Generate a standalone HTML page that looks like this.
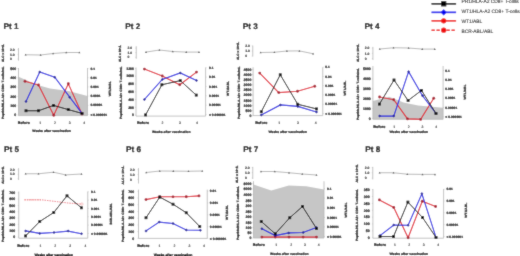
<!DOCTYPE html>
<html><head><meta charset="utf-8"><title>Figure</title>
<style>
html,body{margin:0;padding:0;background:#fff;}
body{width:520px;height:256px;overflow:hidden;font-family:"Liberation Sans", sans-serif;}
svg{display:block;}
#wrap{width:520px;height:256px;}
text{filter:grayscale(1);text-rendering:geometricPrecision;stroke:#000;stroke-width:0.2px;}
text.lg{stroke:#222;stroke-width:0.08px;}
text.nm{stroke-width:0.1px;}
</style></head><body>
<div id="wrap">
<svg width="520" height="256" viewBox="0 0 520 256" font-family='"Liberation Sans", sans-serif'>
<defs><filter id="bl" x="0" y="0" width="520" height="256" filterUnits="userSpaceOnUse"><feConvolveMatrix order="3" kernelMatrix="0.02 0.08 0.02 0.08 0.6 0.08 0.02 0.08 0.02" divisor="1" edgeMode="duplicate" preserveAlpha="false"/></filter></defs>
<rect width="520" height="256" fill="#fff"/>
<g filter="url(#bl)">
<rect width="520" height="256" fill="#fff"/>
<text x="3.45" y="28.9" font-size="8.2" font-weight="bold" text-anchor="start" fill="#000">Pt 1</text>
<line x1="18.5" y1="48" x2="18.5" y2="60.6" stroke="#b4b4b4" stroke-width="0.8"/>
<text x="10" y="50.82" font-size="3.4" font-weight="bold" text-anchor="start" fill="#000000" class="nm">2.0</text>
<line x1="17.5" y1="49.6" x2="18.5" y2="49.6" stroke="#b4b4b4" stroke-width="0.5"/>
<text x="10" y="55.52" font-size="3.4" font-weight="bold" text-anchor="start" fill="#000000" class="nm">1.0</text>
<line x1="17.5" y1="54.3" x2="18.5" y2="54.3" stroke="#b4b4b4" stroke-width="0.5"/>
<text x="10" y="60.22" font-size="3.4" font-weight="bold" text-anchor="start" fill="#000000" class="nm">0</text>
<line x1="17.5" y1="59" x2="18.5" y2="59" stroke="#b4b4b4" stroke-width="0.5"/>
<polyline points="25.6,54.75 40.6,55 53.1,53.5 66.25,52.5 79.4,52.5" fill="none" stroke="#8a8a8a" stroke-width="0.6"/>
<polygon points="25.6,53.75 26.6,55.55 24.6,55.55" fill="#4a4a4a"/>
<polygon points="40.6,54 41.6,55.8 39.6,55.8" fill="#4a4a4a"/>
<polygon points="53.1,52.5 54.1,54.3 52.1,54.3" fill="#4a4a4a"/>
<polygon points="66.25,51.5 67.25,53.3 65.25,53.3" fill="#4a4a4a"/>
<polygon points="79.4,51.5 80.4,53.3 78.4,53.3" fill="#4a4a4a"/>
<text transform="translate(3.62 53) rotate(-90)" x="0" y="0" font-size="3.2" font-weight="bold" text-anchor="middle" fill="#000000" textLength="18" lengthAdjust="spacingAndGlyphs">ALC x 10⁹/L</text>
<polygon points="18.5,76.7 37.6,85.1 50,88.4 68.5,91 87.5,96 87.5,115.6 18.5,115.6" fill="#c6c6c6"/>
<polyline points="18.5,68 18.5,115.6 87.5,115.6 87.5,68" fill="none" stroke="#b4b4b4" stroke-width="0.8"/>
<text x="16.2" y="69.76" font-size="3.5" font-weight="bold" text-anchor="end" fill="#000000">500</text>
<line x1="17.5" y1="68.5" x2="18.5" y2="68.5" stroke="#b4b4b4" stroke-width="0.5"/>
<text x="16.2" y="79.06" font-size="3.5" font-weight="bold" text-anchor="end" fill="#000000">400</text>
<line x1="17.5" y1="77.8" x2="18.5" y2="77.8" stroke="#b4b4b4" stroke-width="0.5"/>
<text x="16.2" y="88.36" font-size="3.5" font-weight="bold" text-anchor="end" fill="#000000">300</text>
<line x1="17.5" y1="87.1" x2="18.5" y2="87.1" stroke="#b4b4b4" stroke-width="0.5"/>
<text x="16.2" y="97.66" font-size="3.5" font-weight="bold" text-anchor="end" fill="#000000">200</text>
<line x1="17.5" y1="96.4" x2="18.5" y2="96.4" stroke="#b4b4b4" stroke-width="0.5"/>
<text x="16.2" y="106.96" font-size="3.5" font-weight="bold" text-anchor="end" fill="#000000">100</text>
<line x1="17.5" y1="105.7" x2="18.5" y2="105.7" stroke="#b4b4b4" stroke-width="0.5"/>
<text x="16.2" y="116.26" font-size="3.5" font-weight="bold" text-anchor="end" fill="#000000">0</text>
<line x1="17.5" y1="115" x2="18.5" y2="115" stroke="#b4b4b4" stroke-width="0.5"/>
<text x="90.5" y="69.69" font-size="3.3" font-weight="bold" text-anchor="start" fill="#000000">0.1</text>
<line x1="87.5" y1="68.5" x2="88.5" y2="68.5" stroke="#b4b4b4" stroke-width="0.5"/>
<text x="90.5" y="78.89" font-size="3.3" font-weight="bold" text-anchor="start" fill="#000000">0.01</text>
<line x1="87.5" y1="77.7" x2="88.5" y2="77.7" stroke="#b4b4b4" stroke-width="0.5"/>
<text x="90.5" y="88.09" font-size="3.3" font-weight="bold" text-anchor="start" fill="#000000">0.001</text>
<line x1="87.5" y1="86.9" x2="88.5" y2="86.9" stroke="#b4b4b4" stroke-width="0.5"/>
<text x="90.5" y="97.29" font-size="3.3" font-weight="bold" text-anchor="start" fill="#000000">0.0001</text>
<line x1="87.5" y1="96.1" x2="88.5" y2="96.1" stroke="#b4b4b4" stroke-width="0.5"/>
<text x="90.5" y="106.49" font-size="3.3" font-weight="bold" text-anchor="start" fill="#000000">0.00001</text>
<line x1="87.5" y1="105.3" x2="88.5" y2="105.3" stroke="#b4b4b4" stroke-width="0.5"/>
<text x="90.5" y="115.69" font-size="3.3" font-weight="bold" text-anchor="start" fill="#000000">&lt; 0.000001</text>
<line x1="87.5" y1="114.5" x2="88.5" y2="114.5" stroke="#b4b4b4" stroke-width="0.5"/>
<polyline points="25,81.25 38.5,85 53.75,115.25 68.3,83.75 82,114" fill="none" stroke="#e01c2c" stroke-width="1.1"/>
<circle cx="25" cy="81.25" r="1.4" fill="#a8162a"/>
<circle cx="38.5" cy="85" r="1.4" fill="#a8162a"/>
<circle cx="53.75" cy="115.25" r="1.4" fill="#a8162a"/>
<circle cx="68.3" cy="83.75" r="1.4" fill="#a8162a"/>
<circle cx="82" cy="114" r="1.4" fill="#a8162a"/>
<polyline points="26,101.4 39.75,71.9 54.75,77.25 69.7,97.15 82,113.3" fill="none" stroke="#1c1ce0" stroke-width="1.1"/>
<polygon points="26,99.9 27.5,101.4 26,102.9 24.5,101.4" fill="#14149c"/>
<polygon points="39.75,70.4 41.25,71.9 39.75,73.4 38.25,71.9" fill="#14149c"/>
<polygon points="54.75,75.75 56.25,77.25 54.75,78.75 53.25,77.25" fill="#14149c"/>
<polygon points="69.7,95.65 71.2,97.15 69.7,98.65 68.2,97.15" fill="#14149c"/>
<polygon points="82,111.8 83.5,113.3 82,114.8 80.5,113.3" fill="#14149c"/>
<polyline points="26,110.75 38.5,110.75 53.5,105.4 68.3,109.6 82,113.4" fill="none" stroke="#000000" stroke-width="0.95"/>
<rect x="24.6" y="109.35" width="2.8" height="2.8" fill="#000000"/>
<rect x="37.1" y="109.35" width="2.8" height="2.8" fill="#000000"/>
<rect x="52.1" y="104" width="2.8" height="2.8" fill="#000000"/>
<rect x="66.9" y="108.2" width="2.8" height="2.8" fill="#000000"/>
<rect x="80.6" y="112" width="2.8" height="2.8" fill="#000000"/>
<text x="23.75" y="124.09" font-size="3.85" font-weight="bold" text-anchor="middle" fill="#000000">Before</text>
<text x="40.3" y="123.92" font-size="3.4" font-weight="normal" text-anchor="middle" fill="#000000" class="nm">1</text>
<text x="55" y="123.92" font-size="3.4" font-weight="normal" text-anchor="middle" fill="#000000" class="nm">2</text>
<text x="69.6" y="123.92" font-size="3.4" font-weight="normal" text-anchor="middle" fill="#000000" class="nm">3</text>
<text x="84.1" y="123.92" font-size="3.4" font-weight="normal" text-anchor="middle" fill="#000000" class="nm">4</text>
<text x="51.6" y="132.12" font-size="3.4" font-weight="bold" text-anchor="middle" fill="#000000">Weeks after vaccination</text>
<text transform="translate(3.82 92.75) rotate(-90)" x="0" y="0" font-size="3.2" font-weight="bold" text-anchor="middle" fill="#000000" textLength="52.5" lengthAdjust="spacingAndGlyphs">Peptide/HLA-A2+ CD8+ T-cells/mL</text>
<text transform="translate(110.72 88.75) rotate(-90)" x="0" y="0" font-size="3.2" font-weight="bold" text-anchor="middle" fill="#000000" textLength="15" lengthAdjust="spacingAndGlyphs">WT1/ABL</text>
<text x="125.2" y="28.9" font-size="8.2" font-weight="bold" text-anchor="start" fill="#000">Pt 2</text>
<line x1="136.25" y1="46.25" x2="136.25" y2="58.75" stroke="#b4b4b4" stroke-width="0.8"/>
<text x="127.5" y="49.32" font-size="3.4" font-weight="bold" text-anchor="start" fill="#000000" class="nm">2.0</text>
<line x1="135.25" y1="48.1" x2="136.25" y2="48.1" stroke="#b4b4b4" stroke-width="0.5"/>
<text x="127.5" y="53.92" font-size="3.4" font-weight="bold" text-anchor="start" fill="#000000" class="nm">1.0</text>
<line x1="135.25" y1="52.7" x2="136.25" y2="52.7" stroke="#b4b4b4" stroke-width="0.5"/>
<text x="127.5" y="58.47" font-size="3.4" font-weight="bold" text-anchor="start" fill="#000000" class="nm">0</text>
<line x1="135.25" y1="57.25" x2="136.25" y2="57.25" stroke="#b4b4b4" stroke-width="0.5"/>
<polyline points="146,52.1 159.4,50 172.75,51.5 186.25,52.1 199,52.1" fill="none" stroke="#8a8a8a" stroke-width="0.6"/>
<polygon points="146,51.1 147,52.9 145,52.9" fill="#4a4a4a"/>
<polygon points="159.4,49 160.4,50.8 158.4,50.8" fill="#4a4a4a"/>
<polygon points="172.75,50.5 173.75,52.3 171.75,52.3" fill="#4a4a4a"/>
<polygon points="186.25,51.1 187.25,52.9 185.25,52.9" fill="#4a4a4a"/>
<polygon points="199,51.1 200,52.9 198,52.9" fill="#4a4a4a"/>
<text transform="translate(121.02 53.38) rotate(-90)" x="0" y="0" font-size="3.2" font-weight="bold" text-anchor="middle" fill="#000000" textLength="17.25" lengthAdjust="spacingAndGlyphs">ALC x 10⁹/L</text>
<polyline points="136,67.5 136,116.1 205.6,116.1 205.6,67.5" fill="none" stroke="#b4b4b4" stroke-width="0.8"/>
<text x="134" y="69.66" font-size="3.5" font-weight="bold" text-anchor="end" fill="#000000">1200</text>
<line x1="135" y1="68.4" x2="136" y2="68.4" stroke="#b4b4b4" stroke-width="0.5"/>
<text x="134" y="77.44" font-size="3.5" font-weight="bold" text-anchor="end" fill="#000000">1000</text>
<line x1="135" y1="76.18" x2="136" y2="76.18" stroke="#b4b4b4" stroke-width="0.5"/>
<text x="134" y="85.23" font-size="3.5" font-weight="bold" text-anchor="end" fill="#000000">800</text>
<line x1="135" y1="83.97" x2="136" y2="83.97" stroke="#b4b4b4" stroke-width="0.5"/>
<text x="134" y="93.01" font-size="3.5" font-weight="bold" text-anchor="end" fill="#000000">600</text>
<line x1="135" y1="91.75" x2="136" y2="91.75" stroke="#b4b4b4" stroke-width="0.5"/>
<text x="134" y="100.79" font-size="3.5" font-weight="bold" text-anchor="end" fill="#000000">400</text>
<line x1="135" y1="99.53" x2="136" y2="99.53" stroke="#b4b4b4" stroke-width="0.5"/>
<text x="134" y="108.58" font-size="3.5" font-weight="bold" text-anchor="end" fill="#000000">200</text>
<line x1="135" y1="107.32" x2="136" y2="107.32" stroke="#b4b4b4" stroke-width="0.5"/>
<text x="134" y="116.36" font-size="3.5" font-weight="bold" text-anchor="end" fill="#000000">0</text>
<line x1="135" y1="115.1" x2="136" y2="115.1" stroke="#b4b4b4" stroke-width="0.5"/>
<text x="209" y="68.94" font-size="3.3" font-weight="bold" text-anchor="start" fill="#000000">0.1</text>
<line x1="205.6" y1="67.75" x2="206.6" y2="67.75" stroke="#b4b4b4" stroke-width="0.5"/>
<text x="209" y="78.29" font-size="3.3" font-weight="bold" text-anchor="start" fill="#000000">0.01</text>
<line x1="205.6" y1="77.1" x2="206.6" y2="77.1" stroke="#b4b4b4" stroke-width="0.5"/>
<text x="209" y="87.64" font-size="3.3" font-weight="bold" text-anchor="start" fill="#000000">0.001</text>
<line x1="205.6" y1="86.45" x2="206.6" y2="86.45" stroke="#b4b4b4" stroke-width="0.5"/>
<text x="209" y="96.99" font-size="3.3" font-weight="bold" text-anchor="start" fill="#000000">0.0001</text>
<line x1="205.6" y1="95.8" x2="206.6" y2="95.8" stroke="#b4b4b4" stroke-width="0.5"/>
<text x="209" y="106.34" font-size="3.3" font-weight="bold" text-anchor="start" fill="#000000">0.00001</text>
<line x1="205.6" y1="105.15" x2="206.6" y2="105.15" stroke="#b4b4b4" stroke-width="0.5"/>
<text x="209" y="115.69" font-size="3.3" font-weight="bold" text-anchor="start" fill="#000000">&lt; 0.000001</text>
<line x1="205.6" y1="114.5" x2="206.6" y2="114.5" stroke="#b4b4b4" stroke-width="0.5"/>
<polyline points="144.4,69.1 162.25,76 179.75,84.75 196.5,72.1" fill="none" stroke="#e01c2c" stroke-width="1.1"/>
<circle cx="144.4" cy="69.1" r="1.4" fill="#a8162a"/>
<circle cx="162.25" cy="76" r="1.4" fill="#a8162a"/>
<circle cx="179.75" cy="84.75" r="1.4" fill="#a8162a"/>
<circle cx="196.5" cy="72.1" r="1.4" fill="#a8162a"/>
<polyline points="144.4,99.5 162.25,79.4 180.25,72.9 196.5,80.6" fill="none" stroke="#1c1ce0" stroke-width="1.1"/>
<polygon points="144.4,98 145.9,99.5 144.4,101 142.9,99.5" fill="#14149c"/>
<polygon points="162.25,77.9 163.75,79.4 162.25,80.9 160.75,79.4" fill="#14149c"/>
<polygon points="180.25,71.4 181.75,72.9 180.25,74.4 178.75,72.9" fill="#14149c"/>
<polygon points="196.5,79.1 198,80.6 196.5,82.1 195,80.6" fill="#14149c"/>
<polyline points="145.6,114.9 161.9,84.75 180.25,80.6 196.25,95.1" fill="none" stroke="#000000" stroke-width="0.95"/>
<rect x="144.2" y="113.5" width="2.8" height="2.8" fill="#000000"/>
<rect x="160.5" y="83.35" width="2.8" height="2.8" fill="#000000"/>
<rect x="178.85" y="79.2" width="2.8" height="2.8" fill="#000000"/>
<rect x="194.85" y="93.7" width="2.8" height="2.8" fill="#000000"/>
<text x="143" y="123.99" font-size="3.85" font-weight="bold" text-anchor="middle" fill="#000000">Before</text>
<text x="162.5" y="123.82" font-size="3.4" font-weight="normal" text-anchor="middle" fill="#000000" class="nm">2</text>
<text x="180" y="123.82" font-size="3.4" font-weight="normal" text-anchor="middle" fill="#000000" class="nm">3</text>
<text x="196.9" y="123.82" font-size="3.4" font-weight="normal" text-anchor="middle" fill="#000000" class="nm">4</text>
<text x="171.2" y="132.72" font-size="3.4" font-weight="bold" text-anchor="middle" fill="#000000">Weeks after vaccination</text>
<text transform="translate(121.62 92.75) rotate(-90)" x="0" y="0" font-size="3.2" font-weight="bold" text-anchor="middle" fill="#000000" textLength="52.5" lengthAdjust="spacingAndGlyphs">Peptide/HLA-A2+ CD8+ T-cells/mL</text>
<text transform="translate(229.12 88.5) rotate(-90)" x="0" y="0" font-size="3.2" font-weight="bold" text-anchor="middle" fill="#000000" textLength="15" lengthAdjust="spacingAndGlyphs">WT1/ABL</text>
<text x="242.7" y="28.9" font-size="8.2" font-weight="bold" text-anchor="start" fill="#000">Pt 3</text>
<line x1="252.75" y1="45.6" x2="252.75" y2="56.5" stroke="#b4b4b4" stroke-width="0.8"/>
<text x="245.25" y="47.12" font-size="3.4" font-weight="bold" text-anchor="start" fill="#000000" class="nm">2.0</text>
<line x1="251.75" y1="45.9" x2="252.75" y2="45.9" stroke="#b4b4b4" stroke-width="0.5"/>
<text x="245.25" y="52.22" font-size="3.4" font-weight="bold" text-anchor="start" fill="#000000" class="nm">1.0</text>
<line x1="251.75" y1="51" x2="252.75" y2="51" stroke="#b4b4b4" stroke-width="0.5"/>
<text x="245.25" y="57.22" font-size="3.4" font-weight="bold" text-anchor="start" fill="#000000" class="nm">0</text>
<line x1="251.75" y1="56" x2="252.75" y2="56" stroke="#b4b4b4" stroke-width="0.5"/>
<polyline points="260.6,52.5 274.4,52.25 286.9,51 299.4,50.9 313.1,53.75" fill="none" stroke="#8a8a8a" stroke-width="0.6"/>
<polygon points="260.6,51.5 261.6,53.3 259.6,53.3" fill="#4a4a4a"/>
<polygon points="274.4,51.25 275.4,53.05 273.4,53.05" fill="#4a4a4a"/>
<polygon points="286.9,50 287.9,51.8 285.9,51.8" fill="#4a4a4a"/>
<polygon points="299.4,49.9 300.4,51.7 298.4,51.7" fill="#4a4a4a"/>
<polygon points="313.1,52.75 314.1,54.55 312.1,54.55" fill="#4a4a4a"/>
<text transform="translate(238.52 50.95) rotate(-90)" x="0" y="0" font-size="3.2" font-weight="bold" text-anchor="middle" fill="#000000" textLength="18.1" lengthAdjust="spacingAndGlyphs">ALC x 10⁹/L</text>
<polyline points="253.1,67.25 253.1,115.6 322.75,115.6 322.75,67.25" fill="none" stroke="#b4b4b4" stroke-width="0.8"/>
<text x="251.4" y="70.66" font-size="3.5" font-weight="bold" text-anchor="end" fill="#000000">4500</text>
<line x1="252.1" y1="69.4" x2="253.1" y2="69.4" stroke="#b4b4b4" stroke-width="0.5"/>
<text x="251.4" y="75.81" font-size="3.5" font-weight="bold" text-anchor="end" fill="#000000">4000</text>
<line x1="252.1" y1="74.55" x2="253.1" y2="74.55" stroke="#b4b4b4" stroke-width="0.5"/>
<text x="251.4" y="80.96" font-size="3.5" font-weight="bold" text-anchor="end" fill="#000000">3500</text>
<line x1="252.1" y1="79.7" x2="253.1" y2="79.7" stroke="#b4b4b4" stroke-width="0.5"/>
<text x="251.4" y="86.11" font-size="3.5" font-weight="bold" text-anchor="end" fill="#000000">3000</text>
<line x1="252.1" y1="84.85" x2="253.1" y2="84.85" stroke="#b4b4b4" stroke-width="0.5"/>
<text x="251.4" y="91.26" font-size="3.5" font-weight="bold" text-anchor="end" fill="#000000">2500</text>
<line x1="252.1" y1="90" x2="253.1" y2="90" stroke="#b4b4b4" stroke-width="0.5"/>
<text x="251.4" y="96.41" font-size="3.5" font-weight="bold" text-anchor="end" fill="#000000">2000</text>
<line x1="252.1" y1="95.15" x2="253.1" y2="95.15" stroke="#b4b4b4" stroke-width="0.5"/>
<text x="251.4" y="101.56" font-size="3.5" font-weight="bold" text-anchor="end" fill="#000000">1500</text>
<line x1="252.1" y1="100.3" x2="253.1" y2="100.3" stroke="#b4b4b4" stroke-width="0.5"/>
<text x="251.4" y="106.71" font-size="3.5" font-weight="bold" text-anchor="end" fill="#000000">1000</text>
<line x1="252.1" y1="105.45" x2="253.1" y2="105.45" stroke="#b4b4b4" stroke-width="0.5"/>
<text x="251.4" y="111.86" font-size="3.5" font-weight="bold" text-anchor="end" fill="#000000">500</text>
<line x1="252.1" y1="110.6" x2="253.1" y2="110.6" stroke="#b4b4b4" stroke-width="0.5"/>
<text x="251.4" y="117.01" font-size="3.5" font-weight="bold" text-anchor="end" fill="#000000">0</text>
<line x1="252.1" y1="115.75" x2="253.1" y2="115.75" stroke="#b4b4b4" stroke-width="0.5"/>
<text x="325.3" y="68.29" font-size="3.3" font-weight="bold" text-anchor="start" fill="#000000">0.1</text>
<line x1="322.75" y1="67.1" x2="323.75" y2="67.1" stroke="#b4b4b4" stroke-width="0.5"/>
<text x="325.3" y="77.57" font-size="3.3" font-weight="bold" text-anchor="start" fill="#000000">0.01</text>
<line x1="322.75" y1="76.38" x2="323.75" y2="76.38" stroke="#b4b4b4" stroke-width="0.5"/>
<text x="325.3" y="86.85" font-size="3.3" font-weight="bold" text-anchor="start" fill="#000000">0.001</text>
<line x1="322.75" y1="85.66" x2="323.75" y2="85.66" stroke="#b4b4b4" stroke-width="0.5"/>
<text x="325.3" y="96.13" font-size="3.3" font-weight="bold" text-anchor="start" fill="#000000">0.0001</text>
<line x1="322.75" y1="94.94" x2="323.75" y2="94.94" stroke="#b4b4b4" stroke-width="0.5"/>
<text x="325.3" y="105.41" font-size="3.3" font-weight="bold" text-anchor="start" fill="#000000">0.00001</text>
<line x1="322.75" y1="104.22" x2="323.75" y2="104.22" stroke="#b4b4b4" stroke-width="0.5"/>
<text x="325.3" y="114.69" font-size="3.3" font-weight="bold" text-anchor="start" fill="#000000">&lt; 0.000001</text>
<line x1="322.75" y1="113.5" x2="323.75" y2="113.5" stroke="#b4b4b4" stroke-width="0.5"/>
<polyline points="259.75,73.1 278.75,92.6 297.5,91.25 314.75,86.25" fill="none" stroke="#e01c2c" stroke-width="1.1"/>
<circle cx="259.75" cy="73.1" r="1.4" fill="#a8162a"/>
<circle cx="278.75" cy="92.6" r="1.4" fill="#a8162a"/>
<circle cx="297.5" cy="91.25" r="1.4" fill="#a8162a"/>
<circle cx="314.75" cy="86.25" r="1.4" fill="#a8162a"/>
<polyline points="261.25,114.9 280.4,104.9 297.75,106.4 316.5,112" fill="none" stroke="#1c1ce0" stroke-width="1.1"/>
<polygon points="261.25,113.4 262.75,114.9 261.25,116.4 259.75,114.9" fill="#14149c"/>
<polygon points="280.4,103.4 281.9,104.9 280.4,106.4 278.9,104.9" fill="#14149c"/>
<polygon points="297.75,104.9 299.25,106.4 297.75,107.9 296.25,106.4" fill="#14149c"/>
<polygon points="316.5,110.5 318,112 316.5,113.5 315,112" fill="#14149c"/>
<polyline points="261.25,111.75 280.25,74.75 297.75,104.25 316.5,108.9" fill="none" stroke="#000000" stroke-width="0.95"/>
<rect x="259.85" y="110.35" width="2.8" height="2.8" fill="#000000"/>
<rect x="278.85" y="73.35" width="2.8" height="2.8" fill="#000000"/>
<rect x="296.35" y="102.85" width="2.8" height="2.8" fill="#000000"/>
<rect x="315.1" y="107.5" width="2.8" height="2.8" fill="#000000"/>
<text x="261.3" y="123.79" font-size="3.85" font-weight="bold" text-anchor="middle" fill="#000000">Before</text>
<text x="279.3" y="123.62" font-size="3.4" font-weight="normal" text-anchor="middle" fill="#000000" class="nm">1</text>
<text x="298" y="123.62" font-size="3.4" font-weight="normal" text-anchor="middle" fill="#000000" class="nm">3</text>
<text x="315.7" y="123.62" font-size="3.4" font-weight="normal" text-anchor="middle" fill="#000000" class="nm">4</text>
<text x="287.7" y="132.52" font-size="3.4" font-weight="bold" text-anchor="middle" fill="#000000">Weeks after vaccination</text>
<text transform="translate(239.72 92.75) rotate(-90)" x="0" y="0" font-size="3.2" font-weight="bold" text-anchor="middle" fill="#000000" textLength="52.5" lengthAdjust="spacingAndGlyphs">Peptide/HLA-A2+ CD8+ T-cells/mL</text>
<text transform="translate(345.62 88.1) rotate(-90)" x="0" y="0" font-size="3.2" font-weight="bold" text-anchor="middle" fill="#000000" textLength="15" lengthAdjust="spacingAndGlyphs">WT1/ABL</text>
<text x="364.45" y="28.9" font-size="8.2" font-weight="bold" text-anchor="start" fill="#000">Pt 4</text>
<line x1="372.9" y1="46.9" x2="372.9" y2="60" stroke="#b4b4b4" stroke-width="0.8"/>
<text x="364.75" y="49.32" font-size="3.4" font-weight="bold" text-anchor="start" fill="#000000" class="nm">2.0</text>
<line x1="371.9" y1="48.1" x2="372.9" y2="48.1" stroke="#b4b4b4" stroke-width="0.5"/>
<text x="364.75" y="54.52" font-size="3.4" font-weight="bold" text-anchor="start" fill="#000000" class="nm">1.0</text>
<line x1="371.9" y1="53.3" x2="372.9" y2="53.3" stroke="#b4b4b4" stroke-width="0.5"/>
<text x="364.75" y="59.72" font-size="3.4" font-weight="bold" text-anchor="start" fill="#000000" class="nm">0</text>
<line x1="371.9" y1="58.5" x2="372.9" y2="58.5" stroke="#b4b4b4" stroke-width="0.5"/>
<polyline points="379.75,49 393.5,47.75 408.6,48 422.25,49.1 434.75,49.1" fill="none" stroke="#8a8a8a" stroke-width="0.6"/>
<polygon points="379.75,48 380.75,49.8 378.75,49.8" fill="#4a4a4a"/>
<polygon points="393.5,46.75 394.5,48.55 392.5,48.55" fill="#4a4a4a"/>
<polygon points="408.6,47 409.6,48.8 407.6,48.8" fill="#4a4a4a"/>
<polygon points="422.25,48.1 423.25,49.9 421.25,49.9" fill="#4a4a4a"/>
<polygon points="434.75,48.1 435.75,49.9 433.75,49.9" fill="#4a4a4a"/>
<text transform="translate(358.52 52.88) rotate(-90)" x="0" y="0" font-size="3.2" font-weight="bold" text-anchor="middle" fill="#000000" textLength="18.25" lengthAdjust="spacingAndGlyphs">ALC x 10⁹/L</text>
<polygon points="372.9,100.9 389,96.8 403.6,102.6 418.2,105.5 443.1,107.7 443.1,119.25 372.9,119.25" fill="#c6c6c6"/>
<polyline points="372.9,66 372.9,119.25 443.1,119.25 443.1,66" fill="none" stroke="#b4b4b4" stroke-width="0.8"/>
<text x="370.8" y="70.26" font-size="3.5" font-weight="bold" text-anchor="end" fill="#000000">5000</text>
<line x1="371.9" y1="69" x2="372.9" y2="69" stroke="#b4b4b4" stroke-width="0.5"/>
<text x="370.8" y="80.18" font-size="3.5" font-weight="bold" text-anchor="end" fill="#000000">4000</text>
<line x1="371.9" y1="78.92" x2="372.9" y2="78.92" stroke="#b4b4b4" stroke-width="0.5"/>
<text x="370.8" y="90.1" font-size="3.5" font-weight="bold" text-anchor="end" fill="#000000">3000</text>
<line x1="371.9" y1="88.84" x2="372.9" y2="88.84" stroke="#b4b4b4" stroke-width="0.5"/>
<text x="370.8" y="100.02" font-size="3.5" font-weight="bold" text-anchor="end" fill="#000000">2000</text>
<line x1="371.9" y1="98.76" x2="372.9" y2="98.76" stroke="#b4b4b4" stroke-width="0.5"/>
<text x="370.8" y="109.94" font-size="3.5" font-weight="bold" text-anchor="end" fill="#000000">1000</text>
<line x1="371.9" y1="108.68" x2="372.9" y2="108.68" stroke="#b4b4b4" stroke-width="0.5"/>
<text x="370.8" y="119.86" font-size="3.5" font-weight="bold" text-anchor="end" fill="#000000">0</text>
<line x1="371.9" y1="118.6" x2="372.9" y2="118.6" stroke="#b4b4b4" stroke-width="0.5"/>
<text x="445.3" y="71.79" font-size="3.3" font-weight="bold" text-anchor="start" fill="#000000">0.1</text>
<line x1="443.1" y1="70.6" x2="444.1" y2="70.6" stroke="#b4b4b4" stroke-width="0.5"/>
<text x="445.3" y="81.02" font-size="3.3" font-weight="bold" text-anchor="start" fill="#000000">0.01</text>
<line x1="443.1" y1="79.83" x2="444.1" y2="79.83" stroke="#b4b4b4" stroke-width="0.5"/>
<text x="445.3" y="90.25" font-size="3.3" font-weight="bold" text-anchor="start" fill="#000000">0.001</text>
<line x1="443.1" y1="89.06" x2="444.1" y2="89.06" stroke="#b4b4b4" stroke-width="0.5"/>
<text x="445.3" y="99.48" font-size="3.3" font-weight="bold" text-anchor="start" fill="#000000">0.0001</text>
<line x1="443.1" y1="98.29" x2="444.1" y2="98.29" stroke="#b4b4b4" stroke-width="0.5"/>
<text x="445.3" y="108.71" font-size="3.3" font-weight="bold" text-anchor="start" fill="#000000">0.00001</text>
<line x1="443.1" y1="107.52" x2="444.1" y2="107.52" stroke="#b4b4b4" stroke-width="0.5"/>
<text x="445.3" y="117.94" font-size="3.3" font-weight="bold" text-anchor="start" fill="#000000">&lt; 0.000001</text>
<line x1="443.1" y1="116.75" x2="444.1" y2="116.75" stroke="#b4b4b4" stroke-width="0.5"/>
<polyline points="379.6,97 393.75,99.75 407.5,118.9 420.6,119.4 433.75,98.25" fill="none" stroke="#e01c2c" stroke-width="1.1"/>
<circle cx="379.6" cy="97" r="1.4" fill="#a8162a"/>
<circle cx="393.75" cy="99.75" r="1.4" fill="#a8162a"/>
<circle cx="407.5" cy="118.9" r="1.4" fill="#a8162a"/>
<circle cx="420.6" cy="119.4" r="1.4" fill="#a8162a"/>
<circle cx="433.75" cy="98.25" r="1.4" fill="#a8162a"/>
<polyline points="379.6,116.1 393.75,116.1 408.6,71.7 422.5,95.75 436,113.5" fill="none" stroke="#1c1ce0" stroke-width="1.1"/>
<polygon points="379.6,114.6 381.1,116.1 379.6,117.6 378.1,116.1" fill="#14149c"/>
<polygon points="393.75,114.6 395.25,116.1 393.75,117.6 392.25,116.1" fill="#14149c"/>
<polygon points="408.6,70.2 410.1,71.7 408.6,73.2 407.1,71.7" fill="#14149c"/>
<polygon points="422.5,94.25 424,95.75 422.5,97.25 421,95.75" fill="#14149c"/>
<polygon points="436,112 437.5,113.5 436,115 434.5,113.5" fill="#14149c"/>
<polyline points="379.4,104.1 394,80 408.1,100.5 421.5,90.4 436,113.5" fill="none" stroke="#000000" stroke-width="0.95"/>
<rect x="378" y="102.7" width="2.8" height="2.8" fill="#000000"/>
<rect x="392.6" y="78.6" width="2.8" height="2.8" fill="#000000"/>
<rect x="406.7" y="99.1" width="2.8" height="2.8" fill="#000000"/>
<rect x="420.1" y="89" width="2.8" height="2.8" fill="#000000"/>
<rect x="434.6" y="112.1" width="2.8" height="2.8" fill="#000000"/>
<text x="379.4" y="127.69" font-size="3.85" font-weight="bold" text-anchor="middle" fill="#000000">Before</text>
<text x="394.25" y="127.52" font-size="3.4" font-weight="normal" text-anchor="middle" fill="#000000" class="nm">1</text>
<text x="408.75" y="127.52" font-size="3.4" font-weight="normal" text-anchor="middle" fill="#000000" class="nm">2</text>
<text x="422.5" y="127.52" font-size="3.4" font-weight="normal" text-anchor="middle" fill="#000000" class="nm">3</text>
<text x="436.25" y="127.52" font-size="3.4" font-weight="normal" text-anchor="middle" fill="#000000" class="nm">4</text>
<text x="408.75" y="132.52" font-size="3.4" font-weight="bold" text-anchor="middle" fill="#000000">Weeks after vaccination</text>
<text transform="translate(358.62 94) rotate(-90)" x="0" y="0" font-size="3.2" font-weight="bold" text-anchor="middle" fill="#000000" textLength="52" lengthAdjust="spacingAndGlyphs">Peptide/HLA-A2+ CD8+ T-cells/mL</text>
<text transform="translate(466.37 91.9) rotate(-90)" x="0" y="0" font-size="3.2" font-weight="bold" text-anchor="middle" fill="#000000" textLength="15" lengthAdjust="spacingAndGlyphs">WT1/ABL</text>
<text x="3.95" y="152" font-size="8.2" font-weight="bold" text-anchor="start" fill="#000">Pt 5</text>
<line x1="18.6" y1="168.1" x2="18.6" y2="180" stroke="#b4b4b4" stroke-width="0.8"/>
<text x="10" y="170.97" font-size="3.4" font-weight="bold" text-anchor="start" fill="#000000" class="nm">2.0</text>
<line x1="17.6" y1="169.75" x2="18.6" y2="169.75" stroke="#b4b4b4" stroke-width="0.5"/>
<text x="10" y="175.47" font-size="3.4" font-weight="bold" text-anchor="start" fill="#000000" class="nm">1.0</text>
<line x1="17.6" y1="174.25" x2="18.6" y2="174.25" stroke="#b4b4b4" stroke-width="0.5"/>
<text x="10" y="179.97" font-size="3.4" font-weight="bold" text-anchor="start" fill="#000000" class="nm">0</text>
<line x1="17.6" y1="178.75" x2="18.6" y2="178.75" stroke="#b4b4b4" stroke-width="0.5"/>
<polyline points="25.6,173.75 38.5,173.75 53.5,172.2 65.6,174.9 81.5,174" fill="none" stroke="#8a8a8a" stroke-width="0.6"/>
<polygon points="25.6,172.75 26.6,174.55 24.6,174.55" fill="#4a4a4a"/>
<polygon points="38.5,172.75 39.5,174.55 37.5,174.55" fill="#4a4a4a"/>
<polygon points="53.5,171.2 54.5,173 52.5,173" fill="#4a4a4a"/>
<polygon points="65.6,173.9 66.6,175.7 64.6,175.7" fill="#4a4a4a"/>
<polygon points="81.5,173 82.5,174.8 80.5,174.8" fill="#4a4a4a"/>
<text transform="translate(4.12 175) rotate(-90)" x="0" y="0" font-size="3.2" font-weight="bold" text-anchor="middle" fill="#000000" textLength="17.5" lengthAdjust="spacingAndGlyphs">ALC x 10⁹/L</text>
<polyline points="18.75,191.5 18.75,238.2 87.75,238.2 87.75,191.5" fill="none" stroke="#b4b4b4" stroke-width="0.8"/>
<text x="15.2" y="194.01" font-size="3.5" font-weight="bold" text-anchor="end" fill="#000000">700</text>
<line x1="17.75" y1="192.75" x2="18.75" y2="192.75" stroke="#b4b4b4" stroke-width="0.5"/>
<text x="15.2" y="200.35" font-size="3.5" font-weight="bold" text-anchor="end" fill="#000000">600</text>
<line x1="17.75" y1="199.09" x2="18.75" y2="199.09" stroke="#b4b4b4" stroke-width="0.5"/>
<text x="15.2" y="206.68" font-size="3.5" font-weight="bold" text-anchor="end" fill="#000000">500</text>
<line x1="17.75" y1="205.42" x2="18.75" y2="205.42" stroke="#b4b4b4" stroke-width="0.5"/>
<text x="15.2" y="213.02" font-size="3.5" font-weight="bold" text-anchor="end" fill="#000000">400</text>
<line x1="17.75" y1="211.76" x2="18.75" y2="211.76" stroke="#b4b4b4" stroke-width="0.5"/>
<text x="15.2" y="219.35" font-size="3.5" font-weight="bold" text-anchor="end" fill="#000000">300</text>
<line x1="17.75" y1="218.09" x2="18.75" y2="218.09" stroke="#b4b4b4" stroke-width="0.5"/>
<text x="15.2" y="225.69" font-size="3.5" font-weight="bold" text-anchor="end" fill="#000000">200</text>
<line x1="17.75" y1="224.43" x2="18.75" y2="224.43" stroke="#b4b4b4" stroke-width="0.5"/>
<text x="15.2" y="232.02" font-size="3.5" font-weight="bold" text-anchor="end" fill="#000000">100</text>
<line x1="17.75" y1="230.76" x2="18.75" y2="230.76" stroke="#b4b4b4" stroke-width="0.5"/>
<text x="15.2" y="238.36" font-size="3.5" font-weight="bold" text-anchor="end" fill="#000000">0</text>
<line x1="17.75" y1="237.1" x2="18.75" y2="237.1" stroke="#b4b4b4" stroke-width="0.5"/>
<text x="91" y="192.94" font-size="3.3" font-weight="bold" text-anchor="start" fill="#000000">0.1</text>
<line x1="87.75" y1="191.75" x2="88.75" y2="191.75" stroke="#b4b4b4" stroke-width="0.5"/>
<text x="91" y="201.27" font-size="3.3" font-weight="bold" text-anchor="start" fill="#000000">0.01</text>
<line x1="87.75" y1="200.08" x2="88.75" y2="200.08" stroke="#b4b4b4" stroke-width="0.5"/>
<text x="91" y="209.6" font-size="3.3" font-weight="bold" text-anchor="start" fill="#000000">0.001</text>
<line x1="87.75" y1="208.41" x2="88.75" y2="208.41" stroke="#b4b4b4" stroke-width="0.5"/>
<text x="91" y="217.93" font-size="3.3" font-weight="bold" text-anchor="start" fill="#000000">0.0001</text>
<line x1="87.75" y1="216.74" x2="88.75" y2="216.74" stroke="#b4b4b4" stroke-width="0.5"/>
<text x="91" y="226.26" font-size="3.3" font-weight="bold" text-anchor="start" fill="#000000">0.00001</text>
<line x1="87.75" y1="225.07" x2="88.75" y2="225.07" stroke="#b4b4b4" stroke-width="0.5"/>
<text x="91" y="234.59" font-size="3.3" font-weight="bold" text-anchor="start" fill="#000000">&lt; 0.000001</text>
<line x1="87.75" y1="233.4" x2="88.75" y2="233.4" stroke="#b4b4b4" stroke-width="0.5"/>
<polyline points="24.5,199.8 41.5,199.8 55,201.4 68,203 81.9,204.1" fill="none" stroke="#e01c2c" stroke-width="0.75" stroke-dasharray="1.5 1.0" opacity="0.75"/>
<circle cx="25" cy="199.8" r="0.6" fill="#e88"/>
<circle cx="27.2" cy="199.8" r="0.6" fill="#e88"/>
<circle cx="29.4" cy="199.8" r="0.6" fill="#e88"/>
<circle cx="31.6" cy="199.8" r="0.6" fill="#e88"/>
<circle cx="33.8" cy="199.8" r="0.6" fill="#e88"/>
<circle cx="36" cy="199.8" r="0.6" fill="#e88"/>
<circle cx="38.2" cy="199.8" r="0.6" fill="#e88"/>
<circle cx="40.4" cy="199.8" r="0.6" fill="#e88"/>
<circle cx="81.9" cy="204.1" r="1.2" fill="none" stroke="#e99" stroke-width="0.5"/>
<polyline points="25.6,230.9 39.75,233.4 54,232.5 68.1,231.1 81.5,233.75" fill="none" stroke="#1c1ce0" stroke-width="1.1"/>
<polygon points="25.6,229.4 27.1,230.9 25.6,232.4 24.1,230.9" fill="#14149c"/>
<polygon points="39.75,231.9 41.25,233.4 39.75,234.9 38.25,233.4" fill="#14149c"/>
<polygon points="54,231 55.5,232.5 54,234 52.5,232.5" fill="#14149c"/>
<polygon points="68.1,229.6 69.6,231.1 68.1,232.6 66.6,231.1" fill="#14149c"/>
<polygon points="81.5,232.25 83,233.75 81.5,235.25 80,233.75" fill="#14149c"/>
<polyline points="25.6,235.9 39.75,221.5 53.75,212.5 67,195.8 81.4,207.8" fill="none" stroke="#000000" stroke-width="0.95"/>
<rect x="24.2" y="234.5" width="2.8" height="2.8" fill="#000000"/>
<rect x="38.35" y="220.1" width="2.8" height="2.8" fill="#000000"/>
<rect x="52.35" y="211.1" width="2.8" height="2.8" fill="#000000"/>
<rect x="65.6" y="194.4" width="2.8" height="2.8" fill="#000000"/>
<rect x="80" y="206.4" width="2.8" height="2.8" fill="#000000"/>
<text x="23.25" y="247.19" font-size="3.85" font-weight="bold" text-anchor="middle" fill="#000000">Before</text>
<text x="40.4" y="247.02" font-size="3.4" font-weight="normal" text-anchor="middle" fill="#000000" class="nm">1</text>
<text x="55.1" y="247.02" font-size="3.4" font-weight="normal" text-anchor="middle" fill="#000000" class="nm">2</text>
<text x="70.3" y="247.02" font-size="3.4" font-weight="normal" text-anchor="middle" fill="#000000" class="nm">3</text>
<text x="85.5" y="247.02" font-size="3.4" font-weight="normal" text-anchor="middle" fill="#000000" class="nm">4</text>
<text x="53.7" y="255.72" font-size="3.4" font-weight="bold" text-anchor="middle" fill="#000000">Weeks after vaccination</text>
<text transform="translate(4.02 215.75) rotate(-90)" x="0" y="0" font-size="3.2" font-weight="bold" text-anchor="middle" fill="#000000" textLength="52.5" lengthAdjust="spacingAndGlyphs">Peptide/HLA-A2+ CD8+ T-cells/mL</text>
<text transform="translate(112.22 214) rotate(-90)" x="0" y="0" font-size="3.2" font-weight="bold" text-anchor="middle" fill="#000000" textLength="21.2" lengthAdjust="spacingAndGlyphs">BCR-ABL/ABL</text>
<text x="125.95" y="152" font-size="8.2" font-weight="bold" text-anchor="start" fill="#000">Pt 6</text>
<line x1="138.5" y1="168.1" x2="138.5" y2="183.5" stroke="#b4b4b4" stroke-width="0.8"/>
<text x="130" y="170.97" font-size="3.4" font-weight="bold" text-anchor="start" fill="#000000" class="nm">2.0</text>
<line x1="137.5" y1="169.75" x2="138.5" y2="169.75" stroke="#b4b4b4" stroke-width="0.5"/>
<text x="130" y="175.72" font-size="3.4" font-weight="bold" text-anchor="start" fill="#000000" class="nm">1.0</text>
<line x1="137.5" y1="174.5" x2="138.5" y2="174.5" stroke="#b4b4b4" stroke-width="0.5"/>
<text x="130" y="180.62" font-size="3.4" font-weight="bold" text-anchor="start" fill="#000000" class="nm">0</text>
<line x1="137.5" y1="179.4" x2="138.5" y2="179.4" stroke="#b4b4b4" stroke-width="0.5"/>
<polyline points="146.25,172.5 159.75,171 173.3,171.1 188.5,171.25 202.25,171" fill="none" stroke="#8a8a8a" stroke-width="0.6"/>
<polygon points="146.25,171.5 147.25,173.3 145.25,173.3" fill="#4a4a4a"/>
<polygon points="159.75,170 160.75,171.8 158.75,171.8" fill="#4a4a4a"/>
<polygon points="173.3,170.1 174.3,171.9 172.3,171.9" fill="#4a4a4a"/>
<polygon points="188.5,170.25 189.5,172.05 187.5,172.05" fill="#4a4a4a"/>
<polygon points="202.25,170 203.25,171.8 201.25,171.8" fill="#4a4a4a"/>
<text transform="translate(123.52 175) rotate(-90)" x="0" y="0" font-size="3.2" font-weight="bold" text-anchor="middle" fill="#000000" textLength="18.8" lengthAdjust="spacingAndGlyphs">ALC x 10⁹/L</text>
<polyline points="138.5,189.6 138.5,238.4 207.25,238.4 207.25,189.6" fill="none" stroke="#b4b4b4" stroke-width="0.8"/>
<text x="134.2" y="192.51" font-size="3.5" font-weight="bold" text-anchor="end" fill="#000000">700</text>
<line x1="137.5" y1="191.25" x2="138.5" y2="191.25" stroke="#b4b4b4" stroke-width="0.5"/>
<text x="134.2" y="199.25" font-size="3.5" font-weight="bold" text-anchor="end" fill="#000000">600</text>
<line x1="137.5" y1="197.99" x2="138.5" y2="197.99" stroke="#b4b4b4" stroke-width="0.5"/>
<text x="134.2" y="205.98" font-size="3.5" font-weight="bold" text-anchor="end" fill="#000000">500</text>
<line x1="137.5" y1="204.72" x2="138.5" y2="204.72" stroke="#b4b4b4" stroke-width="0.5"/>
<text x="134.2" y="212.72" font-size="3.5" font-weight="bold" text-anchor="end" fill="#000000">400</text>
<line x1="137.5" y1="211.46" x2="138.5" y2="211.46" stroke="#b4b4b4" stroke-width="0.5"/>
<text x="134.2" y="219.45" font-size="3.5" font-weight="bold" text-anchor="end" fill="#000000">300</text>
<line x1="137.5" y1="218.19" x2="138.5" y2="218.19" stroke="#b4b4b4" stroke-width="0.5"/>
<text x="134.2" y="226.19" font-size="3.5" font-weight="bold" text-anchor="end" fill="#000000">200</text>
<line x1="137.5" y1="224.93" x2="138.5" y2="224.93" stroke="#b4b4b4" stroke-width="0.5"/>
<text x="134.2" y="232.92" font-size="3.5" font-weight="bold" text-anchor="end" fill="#000000">100</text>
<line x1="137.5" y1="231.66" x2="138.5" y2="231.66" stroke="#b4b4b4" stroke-width="0.5"/>
<text x="134.2" y="239.66" font-size="3.5" font-weight="bold" text-anchor="end" fill="#000000">0</text>
<line x1="137.5" y1="238.4" x2="138.5" y2="238.4" stroke="#b4b4b4" stroke-width="0.5"/>
<text x="209.8" y="192.44" font-size="3.3" font-weight="bold" text-anchor="start" fill="#000000">0.01</text>
<line x1="207.25" y1="191.25" x2="208.25" y2="191.25" stroke="#b4b4b4" stroke-width="0.5"/>
<text x="209.8" y="204.23" font-size="3.3" font-weight="bold" text-anchor="start" fill="#000000">0.001</text>
<line x1="207.25" y1="203.04" x2="208.25" y2="203.04" stroke="#b4b4b4" stroke-width="0.5"/>
<text x="209.8" y="216.01" font-size="3.3" font-weight="bold" text-anchor="start" fill="#000000">0.0001</text>
<line x1="207.25" y1="214.82" x2="208.25" y2="214.82" stroke="#b4b4b4" stroke-width="0.5"/>
<text x="209.8" y="227.8" font-size="3.3" font-weight="bold" text-anchor="start" fill="#000000">0.00001</text>
<line x1="207.25" y1="226.61" x2="208.25" y2="226.61" stroke="#b4b4b4" stroke-width="0.5"/>
<text x="209.8" y="239.59" font-size="3.3" font-weight="bold" text-anchor="start" fill="#000000">&lt; 0.000001</text>
<line x1="207.25" y1="238.4" x2="208.25" y2="238.4" stroke="#b4b4b4" stroke-width="0.5"/>
<polyline points="146,199.6 159.75,196.75 173,196.8 186.25,196.75 199,195.9" fill="none" stroke="#e01c2c" stroke-width="1.1"/>
<circle cx="146" cy="199.6" r="1.4" fill="#a8162a"/>
<circle cx="159.75" cy="196.75" r="1.4" fill="#a8162a"/>
<circle cx="173" cy="196.8" r="1.4" fill="#a8162a"/>
<circle cx="186.25" cy="196.75" r="1.4" fill="#a8162a"/>
<circle cx="199" cy="195.9" r="1.4" fill="#a8162a"/>
<polyline points="146,230.9 159.2,222.1 173,223.5 186.25,230 200.4,230.25" fill="none" stroke="#1c1ce0" stroke-width="1.1"/>
<polygon points="146,229.4 147.5,230.9 146,232.4 144.5,230.9" fill="#14149c"/>
<polygon points="159.2,220.6 160.7,222.1 159.2,223.6 157.7,222.1" fill="#14149c"/>
<polygon points="173,222 174.5,223.5 173,225 171.5,223.5" fill="#14149c"/>
<polygon points="186.25,228.5 187.75,230 186.25,231.5 184.75,230" fill="#14149c"/>
<polygon points="200.4,228.75 201.9,230.25 200.4,231.75 198.9,230.25" fill="#14149c"/>
<polyline points="146,217.75 159.75,197.1 173,204.2 186.25,212.75 199.75,226.5" fill="none" stroke="#000000" stroke-width="0.95"/>
<rect x="144.6" y="216.35" width="2.8" height="2.8" fill="#000000"/>
<rect x="158.35" y="195.7" width="2.8" height="2.8" fill="#000000"/>
<rect x="171.6" y="202.8" width="2.8" height="2.8" fill="#000000"/>
<rect x="184.85" y="211.35" width="2.8" height="2.8" fill="#000000"/>
<rect x="198.35" y="225.1" width="2.8" height="2.8" fill="#000000"/>
<text x="143.25" y="246.89" font-size="3.85" font-weight="bold" text-anchor="middle" fill="#000000">Before</text>
<text x="159.5" y="246.72" font-size="3.4" font-weight="normal" text-anchor="middle" fill="#000000" class="nm">1</text>
<text x="174.4" y="246.72" font-size="3.4" font-weight="normal" text-anchor="middle" fill="#000000" class="nm">2</text>
<text x="189.4" y="246.72" font-size="3.4" font-weight="normal" text-anchor="middle" fill="#000000" class="nm">3</text>
<text x="204" y="246.72" font-size="3.4" font-weight="normal" text-anchor="middle" fill="#000000" class="nm">4</text>
<text x="173.1" y="255.72" font-size="3.4" font-weight="bold" text-anchor="middle" fill="#000000">Weeks after vaccination</text>
<text transform="translate(124.12 215.75) rotate(-90)" x="0" y="0" font-size="3.2" font-weight="bold" text-anchor="middle" fill="#000000" textLength="52.5" lengthAdjust="spacingAndGlyphs">Peptide/HLA-A2+ CD8+ T-cells/mL</text>
<text transform="translate(227.87 212.5) rotate(-90)" x="0" y="0" font-size="3.2" font-weight="bold" text-anchor="middle" fill="#000000" textLength="15" lengthAdjust="spacingAndGlyphs">WT1/ABL</text>
<text x="243.2" y="152" font-size="8.2" font-weight="bold" text-anchor="start" fill="#000">Pt 7</text>
<line x1="252.75" y1="166.9" x2="252.75" y2="179" stroke="#b4b4b4" stroke-width="0.8"/>
<text x="245" y="168.72" font-size="3.4" font-weight="bold" text-anchor="start" fill="#000000" class="nm">2.0</text>
<line x1="251.75" y1="167.5" x2="252.75" y2="167.5" stroke="#b4b4b4" stroke-width="0.5"/>
<text x="245" y="173.92" font-size="3.4" font-weight="bold" text-anchor="start" fill="#000000" class="nm">1.0</text>
<line x1="251.75" y1="172.7" x2="252.75" y2="172.7" stroke="#b4b4b4" stroke-width="0.5"/>
<text x="245" y="179.12" font-size="3.4" font-weight="bold" text-anchor="start" fill="#000000" class="nm">0</text>
<line x1="251.75" y1="177.9" x2="252.75" y2="177.9" stroke="#b4b4b4" stroke-width="0.5"/>
<polyline points="261,171.5 274.75,171.5 289,172.75 302.25,174 316.5,175" fill="none" stroke="#8a8a8a" stroke-width="0.6"/>
<polygon points="261,170.5 262,172.3 260,172.3" fill="#4a4a4a"/>
<polygon points="274.75,170.5 275.75,172.3 273.75,172.3" fill="#4a4a4a"/>
<polygon points="289,171.75 290,173.55 288,173.55" fill="#4a4a4a"/>
<polygon points="302.25,173 303.25,174.8 301.25,174.8" fill="#4a4a4a"/>
<polygon points="316.5,174 317.5,175.8 315.5,175.8" fill="#4a4a4a"/>
<text transform="translate(237.87 174.35) rotate(-90)" x="0" y="0" font-size="3.2" font-weight="bold" text-anchor="middle" fill="#000000" textLength="17.5" lengthAdjust="spacingAndGlyphs">ALC x 10⁹/L</text>
<polygon points="253.5,184.4 271.25,190.6 288.75,185.6 306.25,186.25 324,189.4 324,238 253.5,238" fill="#c6c6c6"/>
<polyline points="253.5,181.25 253.5,238 324,238 324,181.25" fill="none" stroke="#b4b4b4" stroke-width="0.8"/>
<text x="251.4" y="184.76" font-size="3.5" font-weight="bold" text-anchor="end" fill="#000000">8000</text>
<line x1="252.5" y1="183.5" x2="253.5" y2="183.5" stroke="#b4b4b4" stroke-width="0.5"/>
<text x="251.4" y="190.26" font-size="3.5" font-weight="bold" text-anchor="end" fill="#000000">6000</text>
<line x1="252.5" y1="189" x2="253.5" y2="189" stroke="#b4b4b4" stroke-width="0.5"/>
<text x="251.4" y="195.66" font-size="3.5" font-weight="bold" text-anchor="end" fill="#000000">4000</text>
<line x1="252.5" y1="194.4" x2="253.5" y2="194.4" stroke="#b4b4b4" stroke-width="0.5"/>
<text x="251.4" y="202.16" font-size="3.5" font-weight="bold" text-anchor="end" fill="#000000">350</text>
<line x1="252.5" y1="200.9" x2="253.5" y2="200.9" stroke="#b4b4b4" stroke-width="0.5"/>
<text x="251.4" y="207.46" font-size="3.5" font-weight="bold" text-anchor="end" fill="#000000">300</text>
<line x1="252.5" y1="206.2" x2="253.5" y2="206.2" stroke="#b4b4b4" stroke-width="0.5"/>
<text x="251.4" y="212.76" font-size="3.5" font-weight="bold" text-anchor="end" fill="#000000">250</text>
<line x1="252.5" y1="211.5" x2="253.5" y2="211.5" stroke="#b4b4b4" stroke-width="0.5"/>
<text x="251.4" y="218.16" font-size="3.5" font-weight="bold" text-anchor="end" fill="#000000">200</text>
<line x1="252.5" y1="216.9" x2="253.5" y2="216.9" stroke="#b4b4b4" stroke-width="0.5"/>
<text x="251.4" y="223.56" font-size="3.5" font-weight="bold" text-anchor="end" fill="#000000">150</text>
<line x1="252.5" y1="222.3" x2="253.5" y2="222.3" stroke="#b4b4b4" stroke-width="0.5"/>
<text x="251.4" y="228.86" font-size="3.5" font-weight="bold" text-anchor="end" fill="#000000">100</text>
<line x1="252.5" y1="227.6" x2="253.5" y2="227.6" stroke="#b4b4b4" stroke-width="0.5"/>
<text x="251.4" y="234.16" font-size="3.5" font-weight="bold" text-anchor="end" fill="#000000">50</text>
<line x1="252.5" y1="232.9" x2="253.5" y2="232.9" stroke="#b4b4b4" stroke-width="0.5"/>
<text x="251.4" y="239.36" font-size="3.5" font-weight="bold" text-anchor="end" fill="#000000">0</text>
<line x1="252.5" y1="238.1" x2="253.5" y2="238.1" stroke="#b4b4b4" stroke-width="0.5"/>
<text x="326.9" y="189.94" font-size="3.3" font-weight="bold" text-anchor="start" fill="#000000">0.1</text>
<line x1="324" y1="188.75" x2="325" y2="188.75" stroke="#b4b4b4" stroke-width="0.5"/>
<text x="326.9" y="199.29" font-size="3.3" font-weight="bold" text-anchor="start" fill="#000000">0.01</text>
<line x1="324" y1="198.1" x2="325" y2="198.1" stroke="#b4b4b4" stroke-width="0.5"/>
<text x="326.9" y="209.29" font-size="3.3" font-weight="bold" text-anchor="start" fill="#000000">0.001</text>
<line x1="324" y1="208.1" x2="325" y2="208.1" stroke="#b4b4b4" stroke-width="0.5"/>
<text x="326.9" y="218.69" font-size="3.3" font-weight="bold" text-anchor="start" fill="#000000">0.0001</text>
<line x1="324" y1="217.5" x2="325" y2="217.5" stroke="#b4b4b4" stroke-width="0.5"/>
<text x="326.9" y="228.09" font-size="3.3" font-weight="bold" text-anchor="start" fill="#000000">0.00001</text>
<line x1="324" y1="226.9" x2="325" y2="226.9" stroke="#b4b4b4" stroke-width="0.5"/>
<text x="326.9" y="237.69" font-size="3.3" font-weight="bold" text-anchor="start" fill="#000000">&lt; 0.00001</text>
<line x1="324" y1="236.5" x2="325" y2="236.5" stroke="#b4b4b4" stroke-width="0.5"/>
<polyline points="261.9,237.1 275.25,237.1 289,237.1 303.1,237.1 316.5,237.1" fill="none" stroke="#e01c2c" stroke-width="1.1"/>
<circle cx="261.9" cy="237.1" r="1.4" fill="#a8162a"/>
<circle cx="275.25" cy="237.1" r="1.4" fill="#a8162a"/>
<circle cx="289" cy="237.1" r="1.4" fill="#a8162a"/>
<circle cx="303.1" cy="237.1" r="1.4" fill="#a8162a"/>
<circle cx="316.5" cy="237.1" r="1.4" fill="#a8162a"/>
<polyline points="261.9,228.75 275.25,235.6 288.75,232.9 303.1,232.5 316.5,227.5" fill="none" stroke="#1c1ce0" stroke-width="1.1"/>
<polygon points="261.9,227.25 263.4,228.75 261.9,230.25 260.4,228.75" fill="#14149c"/>
<polygon points="275.25,234.1 276.75,235.6 275.25,237.1 273.75,235.6" fill="#14149c"/>
<polygon points="288.75,231.4 290.25,232.9 288.75,234.4 287.25,232.9" fill="#14149c"/>
<polygon points="303.1,231 304.6,232.5 303.1,234 301.6,232.5" fill="#14149c"/>
<polygon points="316.5,226 318,227.5 316.5,229 315,227.5" fill="#14149c"/>
<polyline points="261.25,221.5 275.25,233.75 289.75,217.75 302.5,206.5 316.5,228.5" fill="none" stroke="#000000" stroke-width="0.95"/>
<rect x="259.85" y="220.1" width="2.8" height="2.8" fill="#000000"/>
<rect x="273.85" y="232.35" width="2.8" height="2.8" fill="#000000"/>
<rect x="288.35" y="216.35" width="2.8" height="2.8" fill="#000000"/>
<rect x="301.1" y="205.1" width="2.8" height="2.8" fill="#000000"/>
<rect x="315.1" y="227.1" width="2.8" height="2.8" fill="#000000"/>
<text x="258.75" y="245.89" font-size="3.85" font-weight="bold" text-anchor="middle" fill="#000000">Before</text>
<text x="276.25" y="245.72" font-size="3.4" font-weight="normal" text-anchor="middle" fill="#000000" class="nm">1</text>
<text x="291.25" y="245.72" font-size="3.4" font-weight="normal" text-anchor="middle" fill="#000000" class="nm">2</text>
<text x="305" y="245.72" font-size="3.4" font-weight="normal" text-anchor="middle" fill="#000000" class="nm">3</text>
<text x="318.75" y="245.72" font-size="3.4" font-weight="normal" text-anchor="middle" fill="#000000" class="nm">4</text>
<text x="289.4" y="255.02" font-size="3.4" font-weight="bold" text-anchor="middle" fill="#000000">Weeks after vaccination</text>
<text transform="translate(239.12 213) rotate(-90)" x="0" y="0" font-size="3.2" font-weight="bold" text-anchor="middle" fill="#000000" textLength="54" lengthAdjust="spacingAndGlyphs">Peptide/HLA-A2+ CD8+ T-cells/mL</text>
<text transform="translate(347.22 210) rotate(-90)" x="0" y="0" font-size="3.2" font-weight="bold" text-anchor="middle" fill="#000000" textLength="15" lengthAdjust="spacingAndGlyphs">WT1/ABL</text>
<text x="365.2" y="152" font-size="8.2" font-weight="bold" text-anchor="start" fill="#000">Pt 8</text>
<line x1="372.75" y1="166.9" x2="372.75" y2="179.4" stroke="#b4b4b4" stroke-width="0.8"/>
<text x="364.75" y="168.72" font-size="3.4" font-weight="bold" text-anchor="start" fill="#000000" class="nm">2.0</text>
<line x1="371.75" y1="167.5" x2="372.75" y2="167.5" stroke="#b4b4b4" stroke-width="0.5"/>
<text x="364.75" y="174.02" font-size="3.4" font-weight="bold" text-anchor="start" fill="#000000" class="nm">1.0</text>
<line x1="371.75" y1="172.8" x2="372.75" y2="172.8" stroke="#b4b4b4" stroke-width="0.5"/>
<text x="364.75" y="179.32" font-size="3.4" font-weight="bold" text-anchor="start" fill="#000000" class="nm">0</text>
<line x1="371.75" y1="178.1" x2="372.75" y2="178.1" stroke="#b4b4b4" stroke-width="0.5"/>
<polyline points="379.6,172.75 393.5,172.75 407.3,174.2 422.5,174.4 435,174.4" fill="none" stroke="#8a8a8a" stroke-width="0.6"/>
<polygon points="379.6,171.75 380.6,173.55 378.6,173.55" fill="#4a4a4a"/>
<polygon points="393.5,171.75 394.5,173.55 392.5,173.55" fill="#4a4a4a"/>
<polygon points="407.3,173.2 408.3,175 406.3,175" fill="#4a4a4a"/>
<polygon points="422.5,173.4 423.5,175.2 421.5,175.2" fill="#4a4a4a"/>
<polygon points="435,173.4 436,175.2 434,175.2" fill="#4a4a4a"/>
<text transform="translate(358.12 173.45) rotate(-90)" x="0" y="0" font-size="3.2" font-weight="bold" text-anchor="middle" fill="#000000" textLength="18.1" lengthAdjust="spacingAndGlyphs">ALC x 10⁹/L</text>
<polyline points="372.9,189 372.9,238.2 443.6,238.2 443.6,189" fill="none" stroke="#b4b4b4" stroke-width="0.8"/>
<text x="369.6" y="190.86" font-size="3.5" font-weight="bold" text-anchor="end" fill="#000000">350</text>
<line x1="371.9" y1="189.6" x2="372.9" y2="189.6" stroke="#b4b4b4" stroke-width="0.5"/>
<text x="369.6" y="197.74" font-size="3.5" font-weight="bold" text-anchor="end" fill="#000000">300</text>
<line x1="371.9" y1="196.48" x2="372.9" y2="196.48" stroke="#b4b4b4" stroke-width="0.5"/>
<text x="369.6" y="204.62" font-size="3.5" font-weight="bold" text-anchor="end" fill="#000000">250</text>
<line x1="371.9" y1="203.36" x2="372.9" y2="203.36" stroke="#b4b4b4" stroke-width="0.5"/>
<text x="369.6" y="211.5" font-size="3.5" font-weight="bold" text-anchor="end" fill="#000000">200</text>
<line x1="371.9" y1="210.24" x2="372.9" y2="210.24" stroke="#b4b4b4" stroke-width="0.5"/>
<text x="369.6" y="218.37" font-size="3.5" font-weight="bold" text-anchor="end" fill="#000000">150</text>
<line x1="371.9" y1="217.11" x2="372.9" y2="217.11" stroke="#b4b4b4" stroke-width="0.5"/>
<text x="369.6" y="225.25" font-size="3.5" font-weight="bold" text-anchor="end" fill="#000000">100</text>
<line x1="371.9" y1="223.99" x2="372.9" y2="223.99" stroke="#b4b4b4" stroke-width="0.5"/>
<text x="369.6" y="232.13" font-size="3.5" font-weight="bold" text-anchor="end" fill="#000000">50</text>
<line x1="371.9" y1="230.87" x2="372.9" y2="230.87" stroke="#b4b4b4" stroke-width="0.5"/>
<text x="369.6" y="239.01" font-size="3.5" font-weight="bold" text-anchor="end" fill="#000000">0</text>
<line x1="371.9" y1="237.75" x2="372.9" y2="237.75" stroke="#b4b4b4" stroke-width="0.5"/>
<text x="446.4" y="190.44" font-size="3.3" font-weight="bold" text-anchor="start" fill="#000000">0.01</text>
<line x1="443.6" y1="189.25" x2="444.6" y2="189.25" stroke="#b4b4b4" stroke-width="0.5"/>
<text x="446.4" y="202.25" font-size="3.3" font-weight="bold" text-anchor="start" fill="#000000">0.001</text>
<line x1="443.6" y1="201.06" x2="444.6" y2="201.06" stroke="#b4b4b4" stroke-width="0.5"/>
<text x="446.4" y="214.06" font-size="3.3" font-weight="bold" text-anchor="start" fill="#000000">0.0001</text>
<line x1="443.6" y1="212.88" x2="444.6" y2="212.88" stroke="#b4b4b4" stroke-width="0.5"/>
<text x="446.4" y="225.88" font-size="3.3" font-weight="bold" text-anchor="start" fill="#000000">0.00001</text>
<line x1="443.6" y1="224.69" x2="444.6" y2="224.69" stroke="#b4b4b4" stroke-width="0.5"/>
<text x="446.4" y="237.69" font-size="3.3" font-weight="bold" text-anchor="start" fill="#000000">&lt; 0.000001</text>
<line x1="443.6" y1="236.5" x2="444.6" y2="236.5" stroke="#b4b4b4" stroke-width="0.5"/>
<polyline points="379.4,199.9 393.75,207.5 408.1,237.75 422.25,201.25 435.6,206.5" fill="none" stroke="#e01c2c" stroke-width="1.1"/>
<circle cx="379.4" cy="199.9" r="1.4" fill="#a8162a"/>
<circle cx="393.75" cy="207.5" r="1.4" fill="#a8162a"/>
<circle cx="408.1" cy="237.75" r="1.4" fill="#a8162a"/>
<circle cx="422.25" cy="201.25" r="1.4" fill="#a8162a"/>
<circle cx="435.6" cy="206.5" r="1.4" fill="#a8162a"/>
<polyline points="380,235.6 393.75,225 408.1,225.25 421.9,193.75 436,237.4" fill="none" stroke="#1c1ce0" stroke-width="1.1"/>
<polygon points="380,234.1 381.5,235.6 380,237.1 378.5,235.6" fill="#14149c"/>
<polygon points="393.75,223.5 395.25,225 393.75,226.5 392.25,225" fill="#14149c"/>
<polygon points="408.1,223.75 409.6,225.25 408.1,226.75 406.6,225.25" fill="#14149c"/>
<polygon points="421.9,192.25 423.4,193.75 421.9,195.25 420.4,193.75" fill="#14149c"/>
<polygon points="436,235.9 437.5,237.4 436,238.9 434.5,237.4" fill="#14149c"/>
<polyline points="380,236.5 393.5,236.5 407.9,202.1 422.5,217.5 436,237.4" fill="none" stroke="#000000" stroke-width="0.95"/>
<rect x="378.6" y="235.1" width="2.8" height="2.8" fill="#000000"/>
<rect x="392.1" y="235.1" width="2.8" height="2.8" fill="#000000"/>
<rect x="406.5" y="200.7" width="2.8" height="2.8" fill="#000000"/>
<rect x="421.1" y="216.1" width="2.8" height="2.8" fill="#000000"/>
<rect x="434.6" y="236" width="2.8" height="2.8" fill="#000000"/>
<text x="380" y="245.89" font-size="3.85" font-weight="bold" text-anchor="middle" fill="#000000">Before</text>
<text x="395" y="245.72" font-size="3.4" font-weight="normal" text-anchor="middle" fill="#000000" class="nm">1</text>
<text x="409.25" y="245.72" font-size="3.4" font-weight="normal" text-anchor="middle" fill="#000000" class="nm">2</text>
<text x="423.75" y="245.72" font-size="3.4" font-weight="normal" text-anchor="middle" fill="#000000" class="nm">3</text>
<text x="438.25" y="245.72" font-size="3.4" font-weight="normal" text-anchor="middle" fill="#000000" class="nm">4</text>
<text x="408.75" y="255.02" font-size="3.4" font-weight="bold" text-anchor="middle" fill="#000000">Weeks after vaccination</text>
<text transform="translate(358.42 215) rotate(-90)" x="0" y="0" font-size="3.2" font-weight="bold" text-anchor="middle" fill="#000000" textLength="52" lengthAdjust="spacingAndGlyphs">Peptide/HLA-A2+ CD8+ T-cells/mL</text>
<text transform="translate(466.62 210.25) rotate(-90)" x="0" y="0" font-size="3.2" font-weight="bold" text-anchor="middle" fill="#000000" textLength="15" lengthAdjust="spacingAndGlyphs">WT1/ABL</text>
<line x1="431.5" y1="3.8" x2="456.1" y2="3.8" stroke="#000" stroke-width="1.6"/>
<rect x="441.1" y="1.2" width="5.2" height="5.2" fill="#000"/>
<text x="461.4" y="3.4" font-size="4.9" font-weight="normal" text-anchor="start" fill="#222" class="lg">PR1/HLA-A2 CD8+ T-cells</text>
<line x1="431.5" y1="12.35" x2="456.1" y2="12.35" stroke="#0000f0" stroke-width="1.6"/>
<polygon points="443.7,9.15 446.9,12.35 443.7,15.55 440.5,12.35" fill="#0000f0"/>
<text x="461.4" y="13" font-size="4.9" font-weight="normal" text-anchor="start" fill="#222" class="lg">WT1/HLA-A2 CD8+ T-cells</text>
<line x1="431.5" y1="20.8" x2="456.1" y2="20.8" stroke="#f01010" stroke-width="1.6"/>
<circle cx="443.7" cy="20.8" r="2.65" fill="#f01010"/>
<text x="461.4" y="23.1" font-size="4.9" font-weight="normal" text-anchor="start" fill="#222" class="lg">WT1/ABL</text>
<line x1="431.5" y1="30.2" x2="456.1" y2="30.2" stroke="#f01010" stroke-width="1.6" stroke-dasharray="3.3 1.7"/>
<circle cx="443.7" cy="30.2" r="2.65" fill="#f01010"/>
<text x="461.4" y="32.8" font-size="4.9" font-weight="normal" text-anchor="start" fill="#222" class="lg">BCR-ABL/ABL</text>
</g>
</svg>
</div>
</body></html>
